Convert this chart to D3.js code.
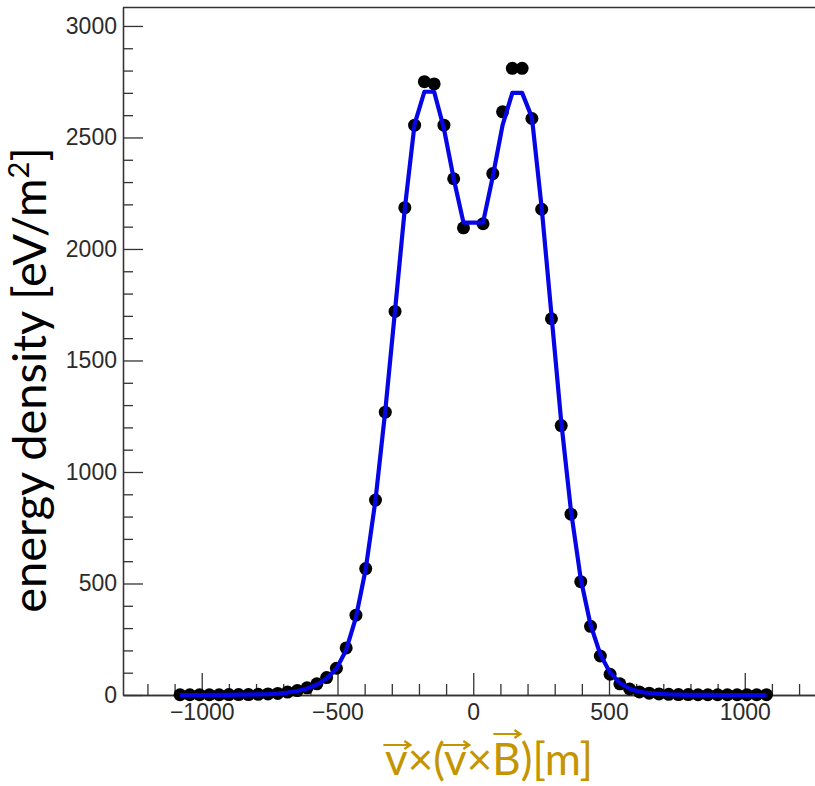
<!DOCTYPE html>
<html>
<head>
<meta charset="utf-8">
<script src="https://cdn.jsdelivr.net/npm/d3@7"></script>
<style>
  html, body { margin: 0; padding: 0; background: #fff; }
  svg { display: block; }
</style>
</head>
<body>
<div id="chart"></div>
<script>
// antenna positions along the v x (v x B) axis [m]
const positions = [
  -1080, -1044, -1008, -972, -936, -900, -864, -828, -792, -756,
  -720, -684, -648, -612, -576, -540, -504, -468, -432, -396,
  -360, -324, -288, -252, -216, -180, -144, -108, -72, -36,
  36, 72, 108, 144, 180, 216, 252, 288, 324, 360,
  396, 432, 468, 504, 540, 576, 612, 648, 684, 720,
  756, 792, 828, 864, 900, 936, 972, 1008, 1044, 1080
];

// simulated energy density [eV/m^2] (black markers)
const simulated = [
  1, 1, 1, 1, 1, 2, 2, 2, 3, 5,
  7, 13, 20, 32, 50, 78, 120, 211, 358, 567,
  874, 1268, 1720, 2185, 2555, 2750, 2740, 2555, 2315, 2095,
  2113, 2338, 2615, 2810, 2810, 2585, 2178, 1687, 1208, 811,
  508, 308, 175, 93, 50, 27, 14, 8, 5, 3,
  2, 2, 1, 1, 1, 1, 1, 1, 1, 1
];

// fitted model (blue line)
const fitted = [
  0, 0, 0, 1, 1, 1, 2, 2, 3, 4,
  6, 11, 18, 29, 46, 74, 118, 202, 348, 565,
  875, 1275, 1725, 2182, 2560, 2705, 2705, 2540, 2315, 2118,
  2118, 2325, 2555, 2700, 2700, 2590, 2185, 1705, 1225, 825,
  520, 315, 182, 100, 54, 28, 15, 8, 5, 3,
  2, 1, 1, 1, 0, 0, 0, 0, 0, 0
];

const xMajor = [-1000, -500, 0, 500, 1000];
const yMajor = [0, 500, 1000, 1500, 2000, 2500, 3000];

const W = 815, H = 786;
const frame = { left: 123, top: 7, bottom: 695, right: 823.5 };

const svg = d3.select('#chart').append('svg')
  .attr('width', W)
  .attr('height', H);

const x = d3.scaleLinear().domain([-1290, 1290]).range([frame.left, frame.right]);
const y = d3.scaleLinear().domain([0, 3085]).range([frame.bottom, frame.top]);

const axisColor = '#333';
const tickFont = '"Liberation Sans", Arial, Helvetica, sans-serif';

// frame top line
svg.append('line')
  .attr('x1', frame.left).attr('x2', W)
  .attr('y1', frame.top + 0.5).attr('y2', frame.top + 0.5)
  .attr('stroke', axisColor).attr('stroke-width', 1.3);

// minor ticks
const xMinor = d3.range(-1200, 1201, 100).filter(v => !xMajor.includes(v));
const yMinor = d3.range(0, 3001, 100).filter(v => !yMajor.includes(v));

svg.append('g')
  .attr('class', 'x-minor')
  .attr('transform', `translate(0,${frame.bottom})`)
  .call(d3.axisBottom(x).tickValues(xMinor).tickSizeInner(-11).tickSizeOuter(0).tickFormat(''));

svg.append('g')
  .attr('class', 'y-minor')
  .attr('transform', `translate(${frame.left},0)`)
  .call(d3.axisLeft(y).tickValues(yMinor).tickSizeInner(-10).tickSizeOuter(0).tickFormat(''));

// major ticks with labels
svg.append('g')
  .attr('class', 'x-axis')
  .attr('transform', `translate(0,${frame.bottom})`)
  .call(d3.axisBottom(x).tickValues(xMajor).tickSizeInner(-22).tickSizeOuter(0).tickPadding(9).tickFormat(d3.format('d')));

svg.append('g')
  .attr('class', 'y-axis')
  .attr('transform', `translate(${frame.left},0)`)
  .call(d3.axisLeft(y).tickValues(yMajor).tickSizeInner(-20).tickSizeOuter(0).tickPadding(6).tickFormat(d3.format('d')));

svg.selectAll('.x-minor, .y-minor, .x-axis, .y-axis').selectAll('path, line')
  .attr('stroke', axisColor).attr('stroke-width', 1.3);

svg.selectAll('.x-axis text, .y-axis text')
  .attr('fill', '#2b2b2b')
  .style('font-family', tickFont)
  .style('font-size', '23px');

// data markers
svg.append('g')
  .attr('class', 'points')
  .selectAll('circle')
  .data(positions.map((p, i) => ({ p, v: simulated[i] })))
  .join('circle')
  .attr('cx', d => x(d.p))
  .attr('cy', d => y(d.v))
  .attr('r', 6.5)
  .attr('fill', '#000');

// fit line
const line = d3.line()
  .x((d, i) => x(positions[i]))
  .y(d => y(d));

svg.append('path')
  .datum(fitted)
  .attr('d', line)
  .attr('fill', 'none')
  .attr('stroke', '#0505e6')
  .attr('stroke-width', 4.2)
  .attr('stroke-linejoin', 'round');

// y axis title
const yTitle = svg.append('text')
  .attr('transform', 'rotate(-90)')
  .attr('x', -380)
  .attr('y', 46)
  .attr('text-anchor', 'middle')
  .style('font-family', 'Lato, "Open Sans", sans-serif')
  .style('font-size', '47px')
  .attr('fill', '#000');
yTitle.append('tspan').text('energy density [eV/m');
yTitle.append('tspan').attr('dy', -17).style('font-size', '29px').text('2');
yTitle.append('tspan').attr('dy', 17).text(']');

// x axis title with vector arrows
const gold = '#c49500';
const xTitle = svg.append('text')
  .attr('x', 385)
  .attr('y', 775)
  .style('font-family', 'Lato, "Open Sans", sans-serif')
  .style('font-size', '44px')
  .attr('fill', gold)
  .text('v×(v×B)[m]');

const node = xTitle.node();
[{ i: 0, dy: 30 }, { i: 3, dy: 30 }, { i: 5, dy: 41 }].forEach(a => {
  const ext = node.getExtentOfChar(a.i);
  const cx = ext.x + ext.width / 2;
  const x0 = cx - 13, x1 = cx + 14, ay = 775 - a.dy;
  svg.append('path')
    .attr('d', `M${x0},${ay}H${x1}M${x1 - 6},${ay - 4}L${x1},${ay}L${x1 - 6},${ay + 4}`)
    .attr('fill', 'none')
    .attr('stroke', gold)
    .attr('stroke-width', 2.2);
});
</script>
</body>
</html>
